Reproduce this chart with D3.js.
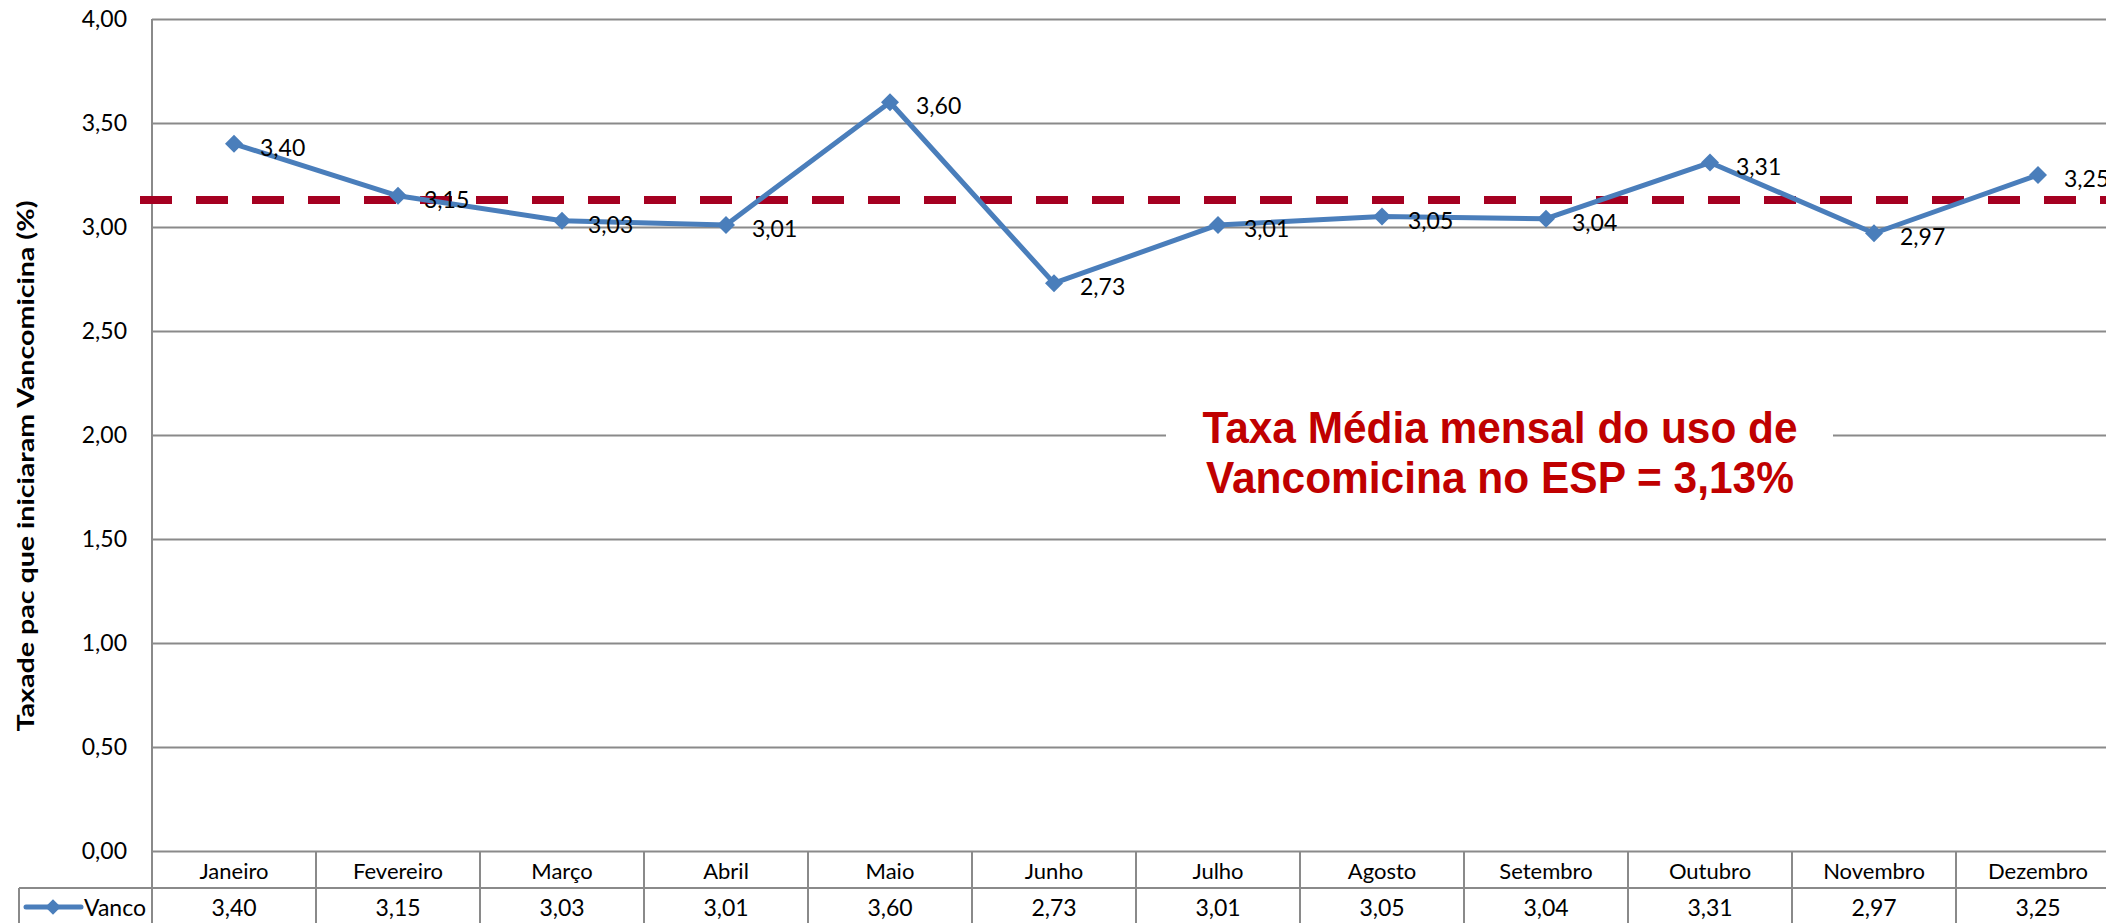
<!DOCTYPE html>
<html>
<head>
<meta charset="utf-8">
<script src="https://cdn.jsdelivr.net/npm/d3@7"></script>
<style>
  body { margin: 0; background: #fff; }
  svg { display: block; font-family: Lato, "Open Sans", sans-serif; }
</style>
</head>
<body>
<div id="chart-area"></div>
<script>
var months = ["Janeiro", "Fevereiro", "Março", "Abril", "Maio", "Junho",
              "Julho", "Agosto", "Setembro", "Outubro", "Novembro", "Dezembro"];
var vanco = [3.40, 3.15, 3.03, 3.01, 3.60, 2.73, 3.01, 3.05, 3.04, 3.31, 2.97, 3.25];
var yTicks = [0, 0.5, 1, 1.5, 2, 2.5, 3, 3.5, 4];
var mediaMensal = 3.13;
var seriesName = "Vanco";
var yTitle = "Taxade pac que iniciaram Vancomicina (%)";
var noteLines = ["Taxa Média mensal do uso de", "Vancomicina no ESP = 3,13%"];

var W = 2106, H = 923;
var plotLeft = 152, plotRight = 2120, plotTop = 19, plotBase = 851;
var rowCat = 888, rowEnd = 926;
var gridColor = "#8a8a8a";
var blue = "#4a7ebb";

var br = d3.formatLocale({ decimal: ",", thousands: ".", grouping: [3], currency: ["R$", ""] });
var fmt = br.format(".2f");

var svg = d3.select("#chart-area").append("svg")
    .attr("width", W)
    .attr("height", H);

var x = d3.scaleBand()
    .domain(months)
    .range([plotLeft, plotRight])
    .padding(0);

var y = d3.scaleLinear()
    .domain([0, 4])
    .range([plotBase, plotTop]);

// y axis with gridlines
var yAxis = svg.append("g")
    .attr("transform", `translate(${plotLeft}, 0)`)
    .call(d3.axisLeft(y)
        .tickValues(yTicks)
        .tickFormat(fmt)
        .tickSizeInner(-(plotRight - plotLeft))
        .tickSizeOuter(0)
        .tickPadding(25));

yAxis.select(".domain").remove();
yAxis.selectAll(".tick line")
    .attr("stroke", gridColor)
    .attr("stroke-width", 2);
yAxis.selectAll(".tick text")
    .attr("font-family", "Lato, sans-serif")
    .attr("font-size", 23)
    .attr("fill", "#000");

// vertical axis line + table
svg.append("line")
    .attr("x1", plotLeft).attr("x2", plotLeft)
    .attr("y1", plotTop).attr("y2", rowEnd)
    .attr("stroke", gridColor).attr("stroke-width", 2);

svg.append("line")
    .attr("x1", 19).attr("x2", plotRight)
    .attr("y1", rowCat).attr("y2", rowCat)
    .attr("stroke", gridColor).attr("stroke-width", 2);

svg.append("line")
    .attr("x1", 19).attr("x2", 19)
    .attr("y1", rowCat).attr("y2", rowEnd)
    .attr("stroke", gridColor).attr("stroke-width", 2);

svg.selectAll(".col-border")
    .data(months)
    .enter().append("line")
    .attr("class", "col-border")
    .attr("x1", d => x(d) + x.bandwidth())
    .attr("x2", d => x(d) + x.bandwidth())
    .attr("y1", plotBase).attr("y2", rowEnd)
    .attr("stroke", gridColor).attr("stroke-width", 2);

svg.selectAll(".cat-label")
    .data(months)
    .enter().append("text")
    .attr("class", "cat-label")
    .attr("x", d => x(d) + x.bandwidth() / 2)
    .attr("y", (plotBase + rowCat) / 2 + 1)
    .attr("text-anchor", "middle")
    .attr("dominant-baseline", "central")
    .attr("font-size", 22)
    .text(d => d);

svg.selectAll(".val-label")
    .data(vanco)
    .enter().append("text")
    .attr("class", "val-label")
    .attr("x", (d, i) => x(months[i]) + x.bandwidth() / 2)
    .attr("y", 907)
    .attr("text-anchor", "middle")
    .attr("dominant-baseline", "central")
    .attr("font-size", 23)
    .text(d => fmt(d));

// legend key in table
var key = svg.append("g");
key.append("line")
    .attr("x1", 26).attr("x2", 81)
    .attr("y1", 907).attr("y2", 907)
    .attr("stroke", blue).attr("stroke-width", 5)
    .attr("stroke-linecap", "round");
key.append("path")
    .attr("d", d3.symbol(d3.symbolSquare, 120)())
    .attr("transform", "translate(53, 907) rotate(45)")
    .attr("fill", blue);
key.append("text")
    .attr("x", 84).attr("y", 907)
    .attr("dominant-baseline", "central")
    .attr("font-size", 23)
    .text(seriesName);

// annotation with white box
var note = svg.append("g");
note.append("rect")
    .attr("x", 1166).attr("y", 400)
    .attr("width", 667).attr("height", 112)
    .attr("fill", "#fff");
note.selectAll("text")
    .data(noteLines)
    .enter().append("text")
    .attr("x", 1500)
    .attr("y", (d, i) => 443 + i * 50)
    .attr("text-anchor", "middle")
    .attr("font-family", "'Liberation Sans', Arial, sans-serif")
    .attr("font-weight", "bold")
    .attr("font-size", 44)
    .attr("fill", "#c00000")
    .attr("textLength", (d, i) => i === 0 ? 595 : 588)
    .attr("lengthAdjust", "spacingAndGlyphs")
    .text(d => d);

// average dashed line
svg.append("line")
    .attr("x1", 140).attr("x2", W)
    .attr("y1", y(mediaMensal)).attr("y2", y(mediaMensal))
    .attr("stroke", "#a50021")
    .attr("stroke-width", 8)
    .attr("stroke-dasharray", "32 24");

// series line
var line = d3.line()
    .x((d, i) => x(months[i]) + x.bandwidth() / 2)
    .y(d => y(d));

svg.append("path")
    .datum(vanco)
    .attr("d", line)
    .attr("fill", "none")
    .attr("stroke", blue)
    .attr("stroke-width", 5)
    .attr("stroke-linejoin", "round");

svg.selectAll(".marker")
    .data(vanco)
    .enter().append("path")
    .attr("class", "marker")
    .attr("d", d3.symbol(d3.symbolSquare, 162)())
    .attr("transform", (d, i) => `translate(${x(months[i]) + x.bandwidth() / 2}, ${y(d)}) rotate(45)`)
    .attr("fill", blue);

svg.selectAll(".data-label")
    .data(vanco)
    .enter().append("text")
    .attr("class", "data-label")
    .attr("x", (d, i) => x(months[i]) + x.bandwidth() / 2 + 26)
    .attr("y", d => y(d) + 3)
    .attr("dominant-baseline", "central")
    .attr("font-size", 23)
    .text(d => fmt(d));

// y title
svg.append("text")
    .attr("transform", "translate(34, 466) rotate(-90)")
    .attr("text-anchor", "middle")
    .attr("font-weight", "bold")
    .attr("font-size", 23)
    .attr("textLength", 531)
    .attr("lengthAdjust", "spacingAndGlyphs")
    .text(yTitle);
</script>
</body>
</html>
